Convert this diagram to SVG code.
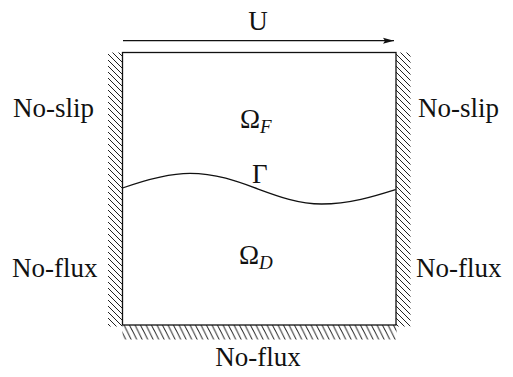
<svg xmlns="http://www.w3.org/2000/svg" width="513" height="377" viewBox="0 0 513 377">
<style>
text{font-family:"Liberation Serif","DejaVu Serif",serif;font-size:27px;fill:#111}
.sub{font-style:italic;font-size:19px}
.ln{fill:none;stroke:#111;stroke-width:1.3}
.h{stroke:#222;stroke-width:1}
</style>
<defs>
<pattern id="hv" patternUnits="userSpaceOnUse" width="6" height="6">
<path class="h" d="M0,0L6,6M-1,5L1,7M5,-1L7,1"/>
</pattern>
<pattern id="hb" patternUnits="userSpaceOnUse" width="5.5" height="11">
<path class="h" d="M0,0L5.5,11M-1,9L1,13M4.5,-2L6.5,2"/>
</pattern>
<marker id="ah" markerWidth="12" markerHeight="8" refX="11" refY="4" orient="auto" markerUnits="userSpaceOnUse">
<path d="M0,1 L11,4 L0,7 L2,4 Z" fill="#111"/>
</marker>
</defs>
<g id="walls">
<rect x="108" y="52.5" width="14.5" height="274" fill="url(#hv)"/>
<rect x="396" y="52.5" width="14.5" height="274" fill="url(#hv)"/>
<rect x="122.5" y="325" width="274" height="14.5" fill="url(#hb)"/>
</g>
<g id="domain">
<rect class="ln" x="122.5" y="52.5" width="273.5" height="272.5"/>
</g>
<g id="connectors">
<path class="ln" d="M123,40.7 L394,40.7" marker-end="url(#ah)"/>
<path id="interface" class="ln" d="M122.5,188 C145,180 168,173.3 190,173.3 C240,173.3 275,204 321.7,204 C350,204 375,196 395.7,189.5"/>
</g>
<g id="labels">
<text x="258" y="30" text-anchor="middle">U</text>
<text x="13" y="117">No-slip</text>
<text x="418" y="117">No-slip</text>
<text x="12" y="277">No-flux</text>
<text x="416" y="277">No-flux</text>
<text x="258" y="366" text-anchor="middle">No-flux</text>
<text x="240" y="128">Ω<tspan class="sub" dy="5">F</tspan></text>
<text x="252" y="183">Γ</text>
<text x="239" y="264">Ω<tspan class="sub" dy="5">D</tspan></text>
</g>
</svg>
